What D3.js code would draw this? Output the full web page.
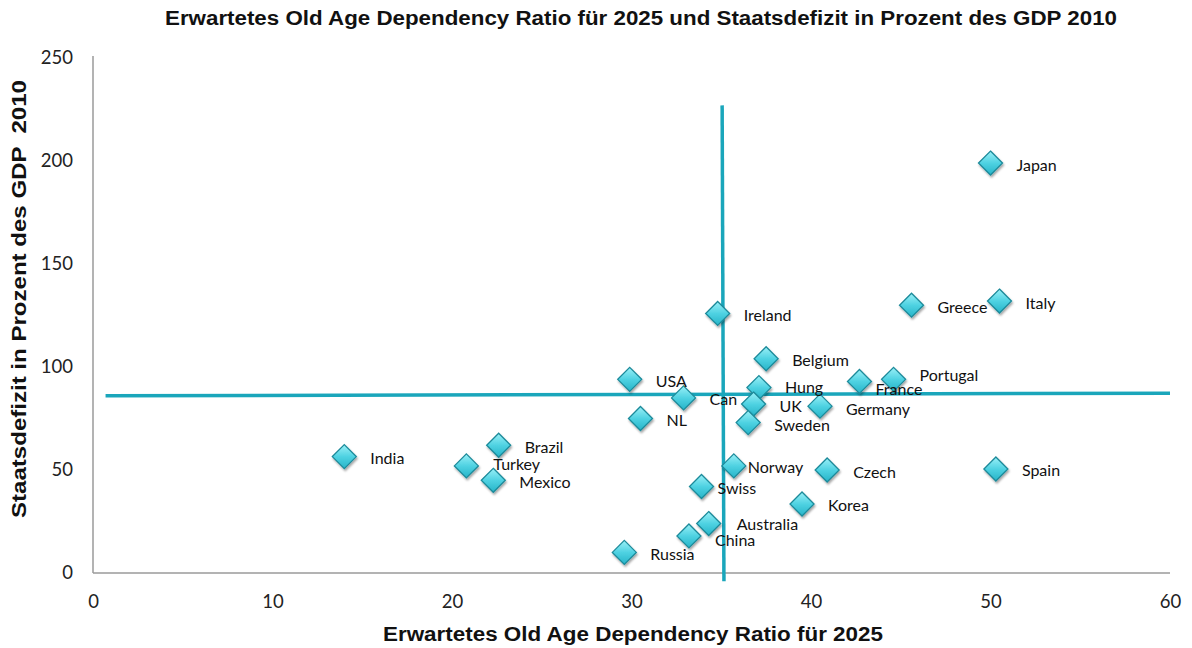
<!DOCTYPE html>
<html><head><meta charset="utf-8">
<script src="https://cdn.jsdelivr.net/npm/d3@7"></script>
<style>body{margin:0;background:#fff}svg{display:block}</style>
</head><body>
<svg id="c" width="1192" height="648"></svg>
<script>
const countries = ["Japan","Italy","Greece","Ireland","Belgium","USA","Portugal","France","Hung","Can","UK","Germany","NL","Sweden","Brazil","India","Turkey","Norway","Czech","Spain","Mexico","Swiss","Korea","Australia","China","Russia"];
const dependencyRatio = [50.0,50.5,45.6,34.8,37.5,29.9,44.6,42.7,37.1,32.9,36.8,40.5,30.5,36.5,22.6,14.0,20.8,35.7,40.9,50.3,22.3,33.9,39.5,34.3,33.2,29.6];
const deficit = [199,132,130,126,104,94,94,93,90,85,82,81,75,73,62,56.5,52,52,50,50.5,45,42,33.5,24,18,10];
const xTicks = [0,10,20,30,40,50,60];
const yTicks = [0,50,100,150,200,250];
const refLineH = [[0.7,86],[60,87.3]];
const refLineV = [[35.05,227],[35.15,-4]];

const svg = d3.select("#c");
const x = d3.scaleLinear().domain([0,60]).range([93,1170]);
const y = d3.scaleLinear().domain([0,250]).range([573,58]);

// label offsets (layout only)
const labelOffset = {France:[16,8],Portugal:[26,-4],Norway:[14,2],Swiss:[16,2],Turkey:[27,-1],China:[26,5],Australia:[28,1],Hung:[26,0],Sweden:[26,3],Germany:[26,3]};

const defs = svg.append("defs");
const g = defs.append("linearGradient").attr("id","dg").attr("x1",0).attr("y1",0).attr("x2",0).attr("y2",1);
g.append("stop").attr("offset","0%").attr("stop-color","#9af0f7");
g.append("stop").attr("offset","50%").attr("stop-color","#4fd2e2");
g.append("stop").attr("offset","100%").attr("stop-color","#26b4c8");
const f = defs.append("filter").attr("id","sh").attr("x","-50%").attr("y","-50%").attr("width","200%").attr("height","200%");
f.append("feDropShadow").attr("dx",1).attr("dy",2).attr("stdDeviation",1.2).attr("flood-color","#000").attr("flood-opacity",0.35);

const boldFont = "Liberation Sans, Arial, Helvetica, sans-serif";
// title
svg.append("text").attr("x",641).attr("y",25).attr("text-anchor","middle")
  .attr("font-family",boldFont).attr("font-weight","bold").attr("font-size",19.5)
  .attr("textLength",952).attr("lengthAdjust","spacingAndGlyphs")
  .attr("fill","#111").text("Erwartetes Old Age Dependency Ratio für 2025 und Staatsdefizit in Prozent des GDP 2010");

// axes
const xAxis = d3.axisBottom(x).tickValues(xTicks).tickSize(0).tickPadding(22);
const yAxis = d3.axisLeft(y).tickValues(yTicks).tickSize(0).tickPadding(20);
const gx = svg.append("g").attr("transform","translate(0,573)").call(xAxis);
const gy = svg.append("g").attr("transform","translate(93,0)").call(yAxis);
[gx,gy].forEach(a=>{
  a.select(".domain").attr("stroke","#9a9a9a").attr("stroke-width",1.5);
  a.selectAll("text").attr("font-family","Lato, 'Open Sans', sans-serif").attr("font-size",18.5).attr("fill","#222");
});
gx.select(".domain").attr("d","M93,0H1170");
gy.select(".domain").attr("d","M0,56V573");

// axis titles
svg.append("text").attr("x",633).attr("y",641).attr("text-anchor","middle")
  .attr("font-family",boldFont).attr("font-weight","bold").attr("font-size",19.5)
  .attr("textLength",500).attr("lengthAdjust","spacingAndGlyphs")
  .attr("fill","#111").text("Erwartetes Old Age Dependency Ratio für 2025");
svg.append("text").attr("transform","translate(26,299) rotate(-90)").attr("text-anchor","middle")
  .attr("font-family",boldFont).attr("font-weight","bold").attr("font-size",19.5)
  .attr("textLength",438).attr("lengthAdjust","spacingAndGlyphs")
  .attr("fill","#111").style("white-space","pre").text("Staatsdefizit in Prozent des GDP  2010");

// reference lines
const line = d3.line().x(d=>x(d[0])).y(d=>y(d[1]));
svg.append("path").attr("d",line(refLineH)).attr("stroke","#1aa6bb").attr("stroke-width",3.5).attr("fill","none");
svg.append("path").attr("d",line(refLineV)).attr("stroke","#1aa6bb").attr("stroke-width",3.5).attr("fill","none");

const data = countries.map((c,i)=>({name:c,x:dependencyRatio[i],y:deficit[i]}));
const r = 12;
svg.append("g").selectAll("path").data(data).join("path")
  .attr("transform",d=>`translate(${x(d.x)},${y(d.y)})`)
  .attr("d",`M0,${-r}L${r},0L0,${r}L${-r},0Z`)
  .attr("fill","url(#dg)").attr("stroke","#1c8a9a").attr("stroke-width",1.3).attr("filter","url(#sh)");

svg.append("g").selectAll("text").data(data).join("text")
  .attr("x",d=>x(d.x)+(labelOffset[d.name]?labelOffset[d.name][0]:26))
  .attr("y",d=>y(d.y)+(labelOffset[d.name]?labelOffset[d.name][1]:2)+5.5)
  .attr("font-family","Lato, 'Open Sans', sans-serif").attr("font-size",16).attr("fill","#111")
  .text(d=>d.name);
</script>
</body></html>
